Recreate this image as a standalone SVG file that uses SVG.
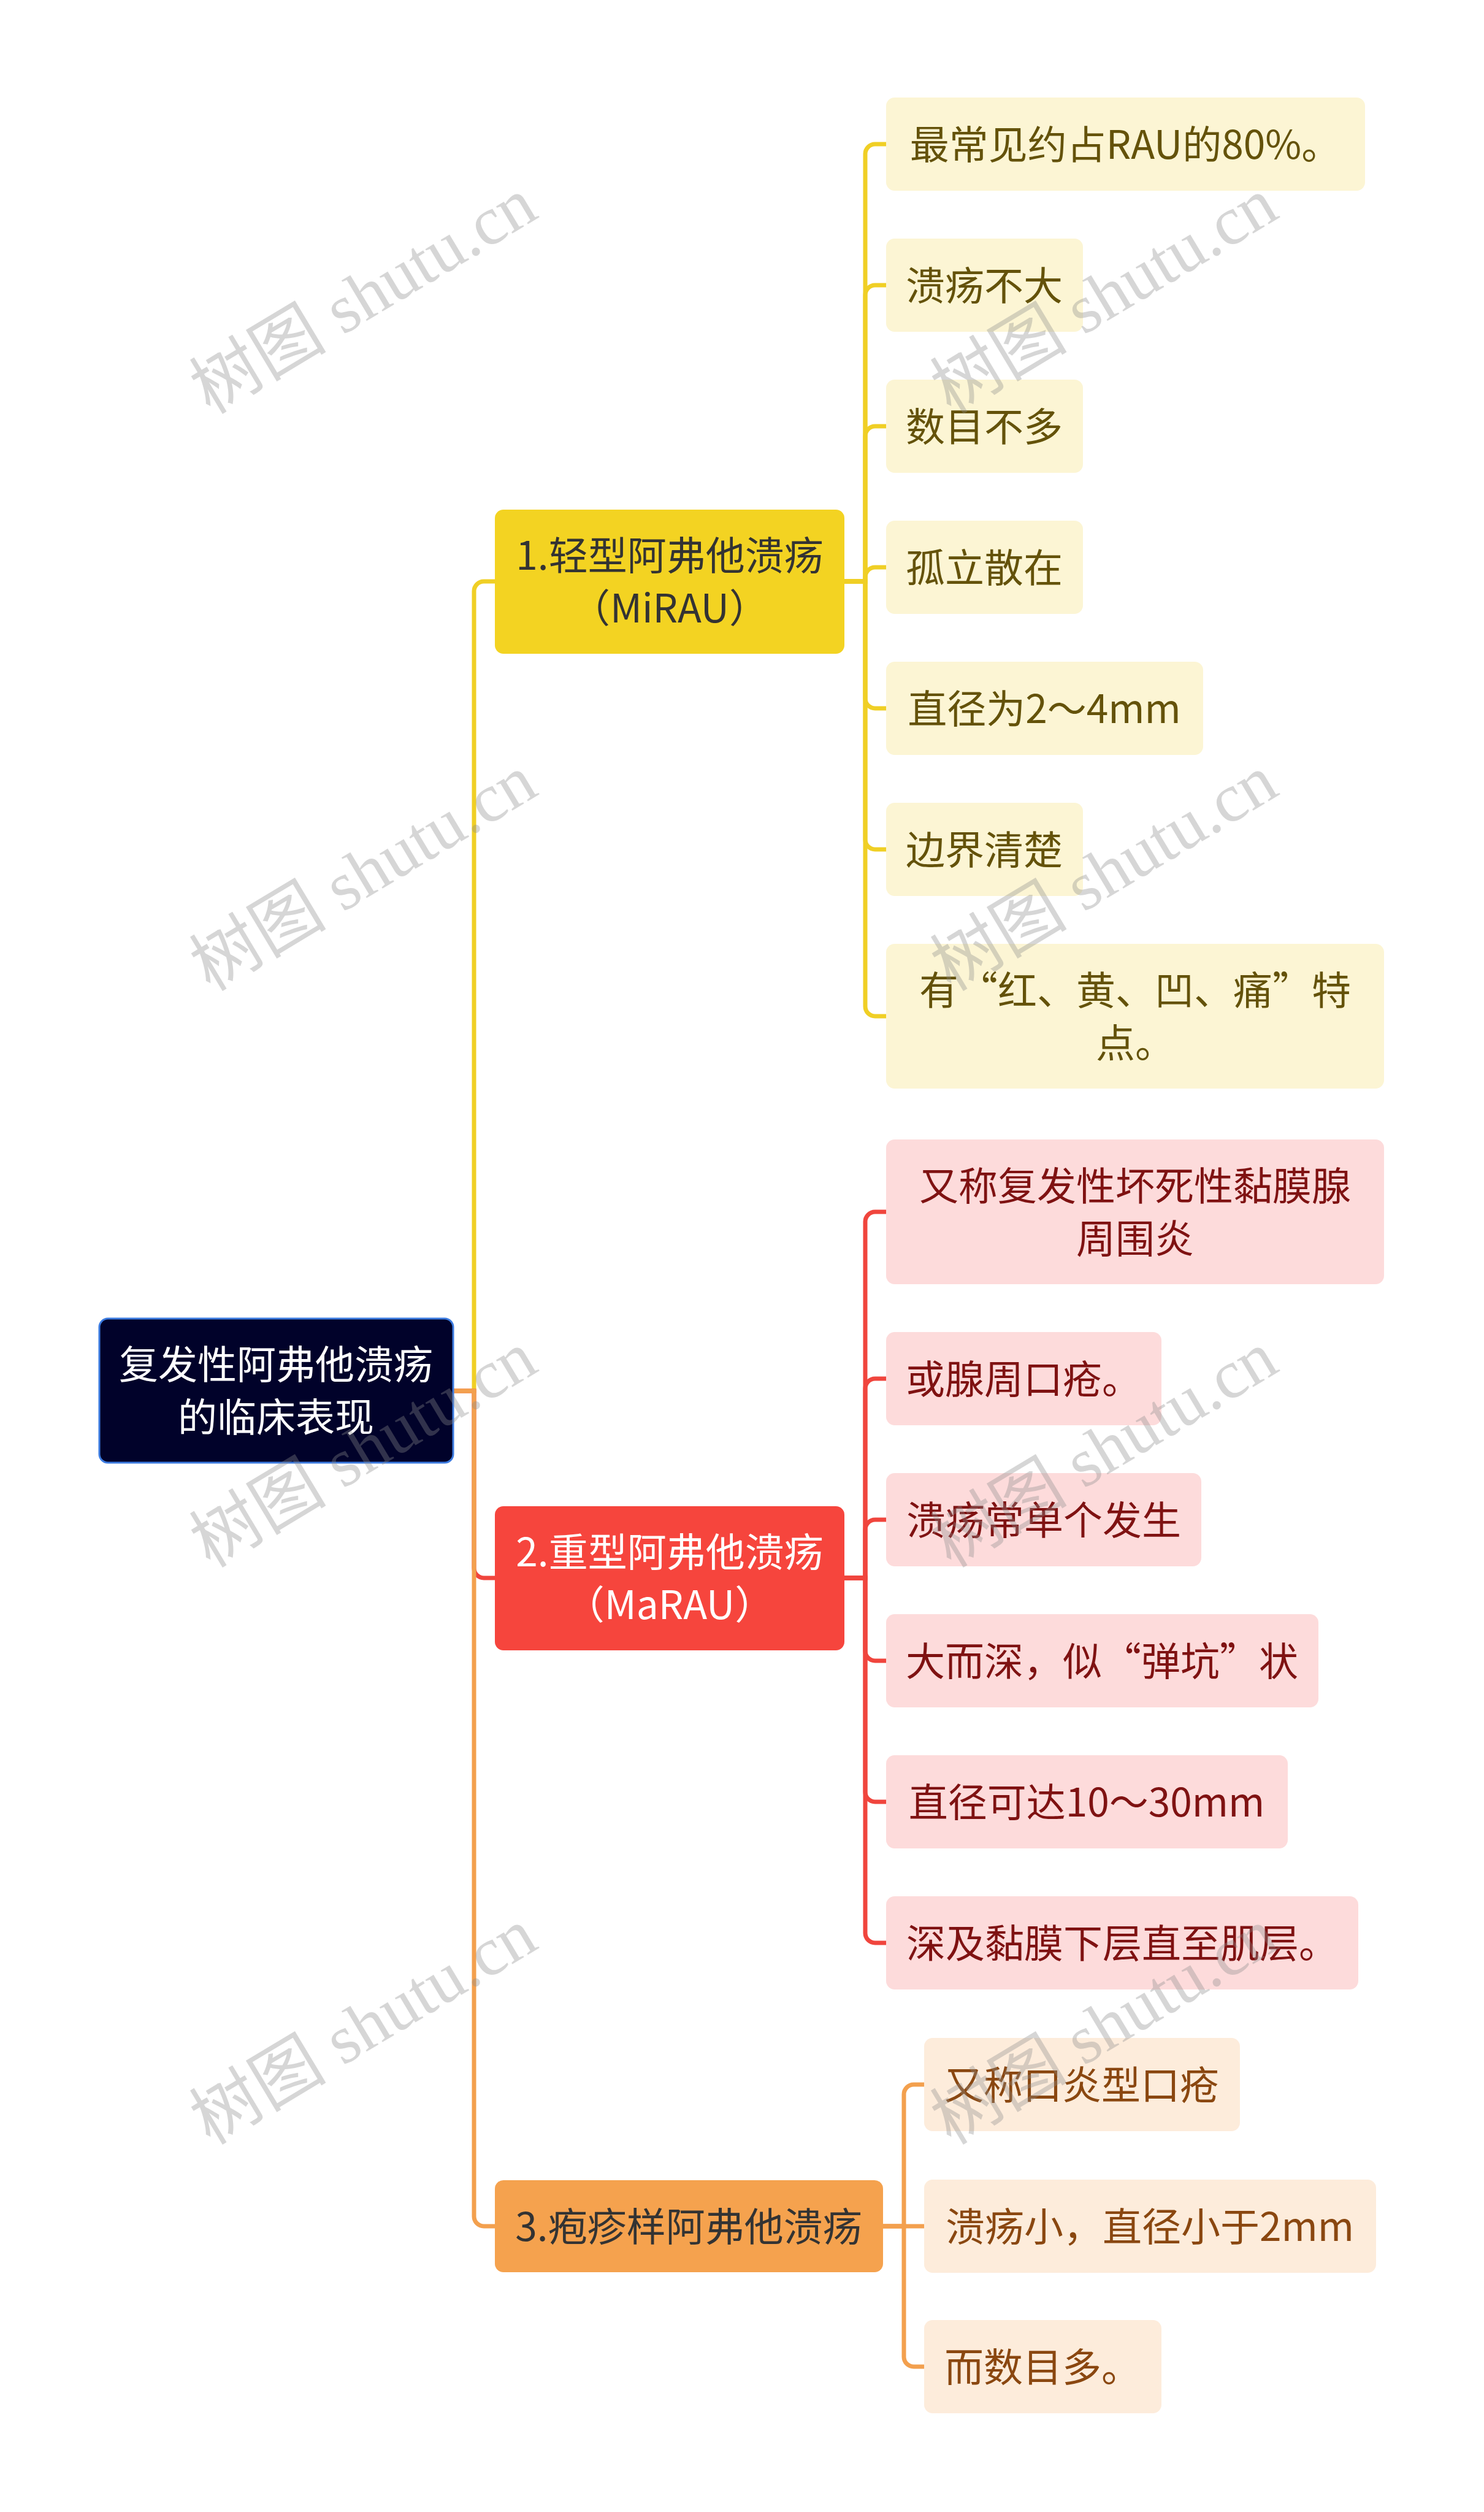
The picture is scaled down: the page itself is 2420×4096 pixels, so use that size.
<svg xmlns="http://www.w3.org/2000/svg" width="2420" height="4096" viewBox="0 0 2420 4096">
<style>
.t{font-family:"Noto Sans CJK SC","Noto Sans",sans-serif;font-size:64px;text-anchor:middle}
.c{fill:none;stroke-width:7}
.cy{stroke:#f0cf25}.cr{stroke:#f0453d}.co{stroke:#f3a04e}
.ly{fill:#fcf5d4}.lr{fill:#fddbdb}.lo{fill:#fdecdb}
.ty{fill:#64520a}.tr{fill:#7f1212}.to{fill:#8a4710}
.wm{font-family:"Liberation Serif","Noto Sans CJK SC",serif;font-size:112px;fill:#8c8c8c;opacity:0.35;text-anchor:middle}
</style>
<rect width="2420" height="4096" fill="#ffffff"/>
<g id="connectors">
<path class="c cy" d="M739,2268 H773 V964 A16,16 0 0 1 789,948 H807"/>
<path class="c cr" d="M739,2268 H773 V2557 A16,16 0 0 0 789,2573 H807"/>
<path class="c co" d="M739,2268 H773 V3614 A16,16 0 0 0 789,3630 H807"/>
<path class="c cy" d="M1377,948 H1411 V251 A16,16 0 0 1 1427,235 H1445"/>
<path class="c cy" d="M1377,948 H1411 V481 A16,16 0 0 1 1427,465 H1445"/>
<path class="c cy" d="M1377,948 H1411 V711 A16,16 0 0 1 1427,695 H1445"/>
<path class="c cy" d="M1377,948 H1411 V941 A16,16 0 0 1 1427,925 H1445"/>
<path class="c cy" d="M1377,948 H1411 V1139 A16,16 0 0 0 1427,1155 H1445"/>
<path class="c cy" d="M1377,948 H1411 V1369 A16,16 0 0 0 1427,1385 H1445"/>
<path class="c cy" d="M1377,948 H1411 V1641 A16,16 0 0 0 1427,1657 H1445"/>
<path class="c cr" d="M1377,2573 H1411 V1992 A16,16 0 0 1 1427,1976 H1445"/>
<path class="c cr" d="M1377,2573 H1411 V2264 A16,16 0 0 1 1427,2248 H1445"/>
<path class="c cr" d="M1377,2573 H1411 V2494 A16,16 0 0 1 1427,2478 H1445"/>
<path class="c cr" d="M1377,2573 H1411 V2692 A16,16 0 0 0 1427,2708 H1445"/>
<path class="c cr" d="M1377,2573 H1411 V2922 A16,16 0 0 0 1427,2938 H1445"/>
<path class="c cr" d="M1377,2573 H1411 V3152 A16,16 0 0 0 1427,3168 H1445"/>
<path class="c co" d="M1440,3630 H1474 V3415 A16,16 0 0 1 1490,3399 H1507"/>
<path class="c co" d="M1440,3630 H1507"/>
<path class="c co" d="M1440,3630 H1474 V3843 A16,16 0 0 0 1490,3859 H1507"/>
</g>
<g id="root">
<rect x="162" y="2150" width="577" height="235" rx="14" fill="#01022a" stroke="#3c7be0" stroke-width="3"/>
<text class="t" x="450" fill="#ffffff"><tspan x="450" y="2248">复发性阿弗他溃疡</tspan><tspan x="450" y="2334">的临床表现</tspan></text>
</g>
<g id="b1">
<rect x="807" y="831" width="570" height="235" rx="14" fill="#f3d322"/>
<text class="t" fill="#333333"><tspan x="1092" y="929">1.轻型阿弗他溃疡</tspan><tspan x="1092" y="1015">（MiRAU）</tspan></text>
</g>
<g id="b2">
<rect x="807" y="2456" width="570" height="235" rx="14" fill="#f6453d"/>
<text class="t" fill="#ffffff"><tspan x="1092" y="2554">2.重型阿弗他溃疡</tspan><tspan x="1092" y="2640">（MaRAU）</tspan></text>
</g>
<g id="b3">
<rect x="807" y="3555" width="633" height="150" rx="14" fill="#f5a24e"/>
<text class="t" x="1123" y="3654" fill="#333333">3.疱疹样阿弗他溃疡</text>
</g>
<g id="y1"><rect class="ly" x="1445" y="159" width="781" height="152" rx="14"/><text class="t ty" x="1835" y="259">最常见约占RAU的80%。</text></g>
<g id="y2"><rect class="ly" x="1445" y="389" width="321" height="152" rx="14"/><text class="t ty" x="1605" y="489">溃疡不大</text></g>
<g id="y3"><rect class="ly" x="1445" y="619" width="321" height="152" rx="14"/><text class="t ty" x="1605" y="719">数目不多</text></g>
<g id="y4"><rect class="ly" x="1445" y="849" width="321" height="152" rx="14"/><text class="t ty" x="1605" y="949">孤立散在</text></g>
<g id="y5"><rect class="ly" x="1445" y="1079" width="517" height="152" rx="14"/><text class="t ty" x="1703" y="1179">直径为2～4mm</text></g>
<g id="y6"><rect class="ly" x="1445" y="1309" width="321" height="152" rx="14"/><text class="t ty" x="1605" y="1409">边界清楚</text></g>
<g id="y7"><rect class="ly" x="1445" y="1539" width="812" height="236" rx="14"/><text class="t ty"><tspan x="1851" y="1638">有“红、黄、凹、痛”特</tspan><tspan x="1851" y="1724">点。</tspan></text></g>
<g id="r1"><rect class="lr" x="1445" y="1858" width="812" height="236" rx="14"/><text class="t tr"><tspan x="1851" y="1957">又称复发性坏死性黏膜腺</tspan><tspan x="1851" y="2043">周围炎</tspan></text></g>
<g id="r2"><rect class="lr" x="1445" y="2172" width="449" height="152" rx="14"/><text class="t tr" x="1669" y="2272">或腺周口疮。</text></g>
<g id="r3"><rect class="lr" x="1445" y="2402" width="514" height="152" rx="14"/><text class="t tr" x="1702" y="2502">溃疡常单个发生</text></g>
<g id="r4"><rect class="lr" x="1445" y="2632" width="705" height="152" rx="14"/><text class="t tr" x="1797" y="2732">大而深，似“弹坑”状</text></g>
<g id="r5"><rect class="lr" x="1445" y="2862" width="655" height="152" rx="14"/><text class="t tr" x="1772" y="2962">直径可达10～30mm</text></g>
<g id="r6"><rect class="lr" x="1445" y="3092" width="770" height="152" rx="14"/><text class="t tr" x="1830" y="3192">深及黏膜下层直至肌层。</text></g>
<g id="o1"><rect class="lo" x="1507" y="3323" width="515" height="152" rx="14"/><text class="t to" x="1764" y="3423">又称口炎型口疮</text></g>
<g id="o2"><rect class="lo" x="1507" y="3554" width="737" height="152" rx="14"/><text class="t to" x="1875" y="3654">溃疡小，直径小于2mm</text></g>
<g id="o3"><rect class="lo" x="1507" y="3783" width="387" height="152" rx="14"/><text class="t to" x="1700" y="3883">而数目多。</text></g>
<g id="watermarks">
<text class="wm" transform="translate(612,515) rotate(-31)">树图 shutu.cn</text>
<text class="wm" transform="translate(1820,515) rotate(-31)">树图 shutu.cn</text>
<text class="wm" transform="translate(612,1456) rotate(-31)">树图 shutu.cn</text>
<text class="wm" transform="translate(1820,1456) rotate(-31)">树图 shutu.cn</text>
<text class="wm" transform="translate(612,2396) rotate(-31)">树图 shutu.cn</text>
<text class="wm" transform="translate(1820,2396) rotate(-31)">树图 shutu.cn</text>
<text class="wm" transform="translate(612,3337) rotate(-31)">树图 shutu.cn</text>
<text class="wm" transform="translate(1820,3337) rotate(-31)">树图 shutu.cn</text>
</g>
</svg>
